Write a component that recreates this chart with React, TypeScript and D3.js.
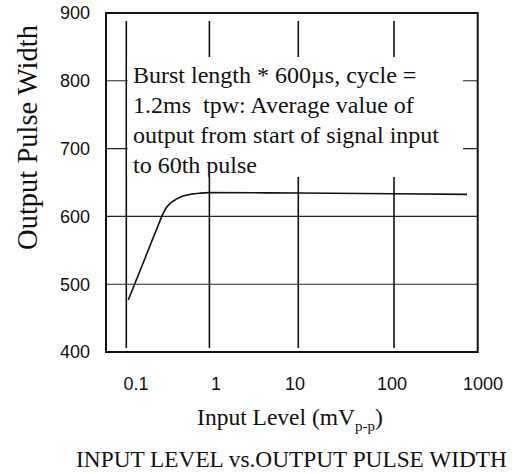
import React from 'react';
import * as d3 from 'd3';

// ---- data ----
const xTickValues = [0.1, 1, 10, 100, 1000];
const xTickLabels = ['0.1', '1', '10', '100', '1000'];
const xGridValues = [0.1, 1, 10, 100];
const yTickValues = [400, 500, 600, 700, 800, 900];
const yGridValues = [500, 600, 700, 800];
const curveInput = [0.1057, 0.267, 0.3, 0.336, 0.4, 0.481, 0.6, 0.769, 1, 10, 100, 745];
const curvePulse = [476.7, 600, 612, 619, 625.5, 630, 632.8, 634.3, 635, 634.5, 633.5, 632.5];
const kneeIndex = 1; // straight rise up to this point, smooth after
const noteLines = [
  'Burst length * 600µs, cycle =',
  '1.2ms  tpw: Average value of',
  'output from start of signal input',
  'to 60th pulse',
];
const yTitle = 'Output Pulse Width';
const chartTitle = 'INPUT LEVEL vs.OUTPUT PULSE WIDTH';

const SERIF = "'Liberation Serif', 'Times New Roman', Times, serif";
const SANS = "'Liberation Sans', Arial, Helvetica, sans-serif";

export default function App() {
  const W = 516, H = 474;
  const left = 106, right = 477.7, top = 13, bottom = 352;

  const x = d3.scaleLog().domain(xTickValues).range([126.3, 209.4, 298.3, 394, right]);
  const xLabel = d3.scaleLog().domain(xTickValues).range([136, 216, 295, 392, 483]);
  const y = d3.scaleLinear().domain([400, 900]).range([bottom, top]);

  const pts = curveInput.map((v, i) => [x(v), y(curvePulse[i])] as [number, number]);
  const risePath = d3.line()(pts.slice(0, kneeIndex + 1)) || '';
  const flatPath = d3.line().curve(d3.curveMonotoneX)(pts.slice(kneeIndex)) || '';

  const box = { x0: 127.6, x1: 463, y0: 57, y1: 177 };

  return (
    <svg width={W} height={H} style={{ position: 'absolute', left: 0, top: 0, display: 'block', background: '#fff' }}>
      <defs>
        <clipPath id="noteClip">
          <rect x={box.x0} y={box.y0} width={box.x1 - box.x0} height={box.y1 - box.y0} />
        </clipPath>
      </defs>
      <rect x={0} y={0} width={W} height={H} fill="#fff" />
      {yGridValues.map((v) => (
        <line key={'h' + v} x1={left} x2={right} y1={y(v)} y2={y(v)} stroke="#222" strokeWidth={1.1} />
      ))}
      {xGridValues.map((v) => (
        <line key={'v' + v} x1={x(v)} x2={x(v)} y1={21} y2={348} stroke="#111" strokeWidth={1.6} />
      ))}
      <rect x={box.x0} y={box.y0} width={box.x1 - box.x0} height={box.y1 - box.y0} fill="#fff" />
      <g clipPath="url(#noteClip)">
        {noteLines.map((t, i) => (
          <text key={i} x={133} y={83.3 + i * 30} fontSize={24} fill="#111" style={{ whiteSpace: 'pre', fontFamily: SERIF }}>
            {t}
          </text>
        ))}
      </g>
      <path d={risePath} fill="none" stroke="#111" strokeWidth={1.6} strokeLinejoin="round" />
      <path d={flatPath} fill="none" stroke="#111" strokeWidth={1.6} />
      <rect x={left} y={top} width={right - left} height={bottom - top} fill="none" stroke="#111" strokeWidth={2} />
      {yTickValues.map((v) => (
        <text key={'yl' + v} x={90} y={y(v)} dy="0.35em" textAnchor="end" fontSize={18} fill="#111" style={{ fontFamily: SANS }}>
          {v}
        </text>
      ))}
      {xTickValues.map((v, i) => (
        <text key={'xl' + v} x={xLabel(v)} y={390} textAnchor="middle" fontSize={18} fill="#111" style={{ fontFamily: SANS }}>
          {xTickLabels[i]}
        </text>
      ))}
      <text transform="translate(37,137.5) rotate(-90)" textAnchor="middle" fontSize={28.5} fill="#111" style={{ fontFamily: SERIF }}>
        {yTitle}
      </text>
      <text x={290} y={425} textAnchor="middle" fontSize={23.5} fill="#111" style={{ fontFamily: SERIF }}>
        Input Level (mV
        <tspan fontSize={15} dy={6}>p-p</tspan>
        <tspan dy={-6}>)</tspan>
      </text>
      <text x={291.5} y={467} textAnchor="middle" fontSize={23.3} fill="#111" style={{ fontFamily: SERIF }}>
        {chartTitle}
      </text>
    </svg>
  );
}
